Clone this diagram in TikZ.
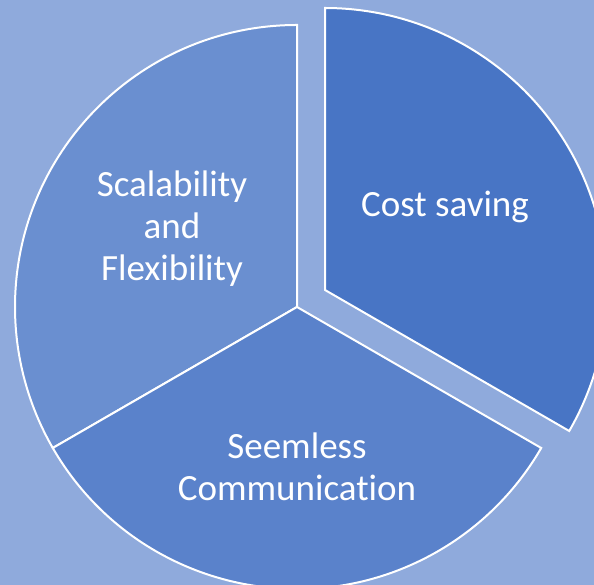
\documentclass[tikz,border=0pt]{standalone}
\usepackage{fontspec}
\setmainfont[Ligatures=NoCommon]{Carlito}
\usetikzlibrary{positioning}
\definecolor{bgblue}{RGB}{143,170,220}
\definecolor{leftblue}{RGB}{106,143,208}
\definecolor{bottomblue}{RGB}{90,130,203}
\definecolor{costblue}{RGB}{72,117,197}
\tikzset{>=latex}
\tikzset{
    slice/.style={draw=white, line width=2pt, line join=miter},
    slicetext/.style={text=white, align=center, font=\fontsize{37}{42}\selectfont}
}

\begin{document}
\begin{tikzpicture}[x=1pt, y=1pt]
    \fill[bgblue] (0,0) rectangle (594,585);
    \useasboundingbox (0,0) rectangle (594,585);
    \clip (0,0) rectangle (594,585);

    \coordinate (c) at (297,278);
    \coordinate (e) at (325,295);

    % the three slices
    \filldraw[slice, fill=leftblue] (c) -- ++(90:282pt) arc (90:210:282pt) -- cycle;
    \filldraw[slice, fill=bottomblue] (c) -- ++(210:282pt) arc (210:330:282pt) -- cycle;
    \filldraw[slice, fill=costblue] (e) -- ++(-30:282pt) arc (-30:90:282pt) -- cycle;

    \node[slicetext] (cost) at (445,378) {Cost saving};
    \node[slicetext] (scale) at (172,356) {Scalability\\and\\Flexibility};
    \node[slicetext] (comm) at (297,118) {Seemless\\Communication};
\end{tikzpicture}
\end{document}
